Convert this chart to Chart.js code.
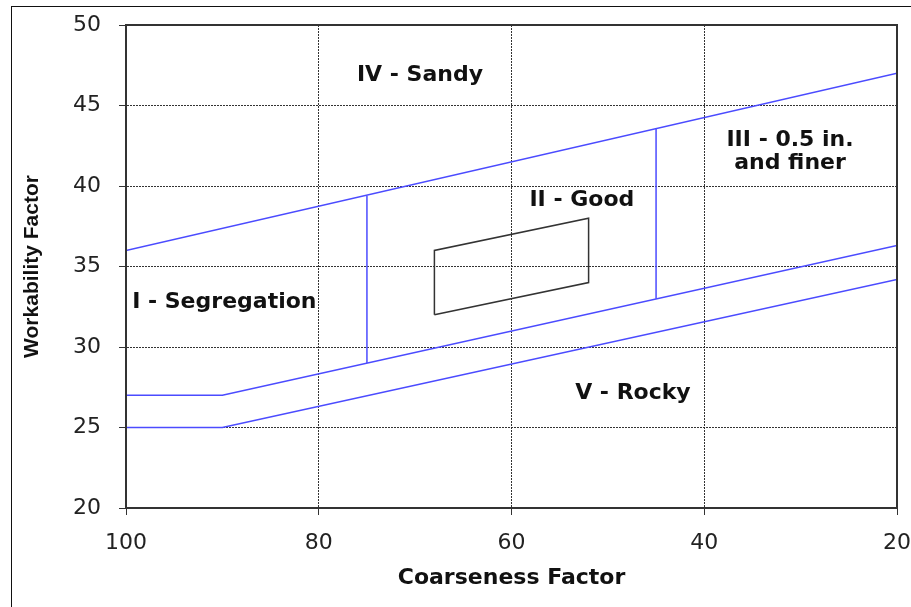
<!DOCTYPE html>
<html>
<head>
<meta charset="utf-8">
<script src="https://cdn.jsdelivr.net/npm/chart.js@4/dist/chart.umd.min.js"></script>
<style>
  html, body { margin: 0; padding: 0; background: #fff; }
  #wrap { position: relative; width: 911px; height: 607px; overflow: hidden; }
  #frame { position: absolute; left: 11px; top: 6px; width: 960px; height: 700px; border: 1.5px solid #111; }
  #box { position: absolute; left: 0; top: 0; width: 911px; height: 607px; }
</style>
</head>
<body>
<div id="wrap">
  <div id="frame"></div>
  <div id="box"><canvas id="chart"></canvas></div>
</div>
<script>
// 坐标轴刻度
const xTicks = [100, 80, 60, 40, 20];
const yTicks = [20, 25, 30, 35, 40, 45, 50];

// 分区边界线 (Coarseness Factor -> Workability Factor)
const upperX = [100, 20];
const upperY = [36, 47];
const middleX = [100, 90, 20];
const middleY = [27, 27, 36.3];
const lowerX = [100, 90, 20];
const lowerY = [25, 25, 34.2];
const split75X = [75, 75];
const split75Y = [29, 39.4];
const split45X = [45, 45];
const split45Y = [33, 43.6];

// II - Good 区域的平行四边形
const goodX = [68, 68, 52, 52, 68];
const goodY = [32, 36, 38, 34, 32];

// 区域名称
const regionNames = [['IV - Sandy'], ['III - 0.5 in.', 'and finer'], ['II - Good'], ['I - Segregation'], ['V - Rocky']];
const regionX = [69.5, 31.1, 52.7, 89.8, 47.4];
const regionY = [46.9, 42.1, 39.1, 32.8, 27.1];

function toPoints(xs, ys) {
    return xs.map(function(x, i) { return { x: x, y: ys[i] }; });
}

const blue = 'rgb(75, 75, 255)';

function lineSet(xs, ys, color, width) {
    return {
        data: toPoints(xs, ys),
        borderColor: color,
        borderWidth: width,
        pointRadius: 0,
        showLine: true,
        fill: false,
        tension: 0
    };
}

// 在数据坐标处写区域名称
const regionLabelPlugin = {
    id: 'regionLabels',
    afterDatasetsDraw: function(chart) {
        const ctx = chart.ctx;
        const xs = chart.scales.x;
        const ys = chart.scales.y;
        ctx.save();
        ctx.fillStyle = '#111';
        ctx.font = 'bold 22px "DejaVu Sans"';
        ctx.textAlign = 'center';
        ctx.textBaseline = 'middle';
        regionNames.forEach(function(lines, i) {
            const px = xs.getPixelForValue(regionX[i]);
            const py = ys.getPixelForValue(regionY[i]);
            const lh = 23;
            const start = py - (lines.length - 1) * lh / 2;
            lines.forEach(function(t, j) {
                ctx.fillText(t, px, start + j * lh);
            });
        });
        ctx.restore();
    }
};

// 画图区外框
const areaBorderPlugin = {
    id: 'areaBorder',
    afterDatasetsDraw: function(chart) {
        const a = chart.chartArea;
        const ctx = chart.ctx;
        ctx.save();
        ctx.setLineDash([]);
        ctx.strokeStyle = '#333';
        ctx.lineWidth = 2;
        ctx.strokeRect(a.left, a.top, a.right - a.left, a.bottom - a.top);
        ctx.restore();
    }
};

function gridColor(ctx) {
    const v = ctx.tick ? ctx.tick.value : null;
    if (v === ctx.scale.min || v === ctx.scale.max) return 'rgba(0,0,0,0)';
    return 'rgba(40,40,40,0.95)';
}

const config = {
    type: 'scatter',
    data: {
        datasets: [
            lineSet(upperX, upperY, blue, 1.5),
            lineSet(middleX, middleY, blue, 1.5),
            lineSet(lowerX, lowerY, blue, 1.5),
            lineSet(split75X, split75Y, blue, 1.5),
            lineSet(split45X, split45Y, blue, 1.5),
            lineSet(goodX, goodY, '#333', 1.5)
        ]
    },
    options: {
        responsive: true,
        maintainAspectRatio: false,
        animation: false,
        layout: { padding: { left: 14, right: 14, top: 25, bottom: 0 } },
        plugins: {
            legend: { display: false },
            tooltip: { enabled: false }
        },
        scales: {
            x: {
                type: 'linear',
                reverse: true,
                min: 20,
                max: 100,
                afterFit: function(scale) {
                    scale.height = 99;
                    scale.paddingLeft = 0;
                    scale.paddingRight = 0;
                },
                afterBuildTicks: function(scale) {
                    scale.ticks = xTicks.map(function(v) { return { value: v }; });
                },
                ticks: {
                    padding: 15,
                    color: '#222',
                    font: { family: '"DejaVu Sans"', size: 22 }
                },
                grid: {
                    color: gridColor,
                    tickColor: '#333',
                    tickLength: 7,
                    tickBorderDash: [],
                    lineWidth: 1
                },
                border: { display: true, color: '#333', width: 2, dash: [2, 1] },
                title: {
                    display: true,
                    text: 'Coarseness Factor',
                    color: '#111',
                    font: { family: '"DejaVu Sans"', size: 22, weight: 'bold' },
                    padding: { top: 0, bottom: 16 }
                }
            },
            y: {
                type: 'linear',
                min: 20,
                max: 50,
                afterFit: function(scale) {
                    scale.width = 112;
                    scale.paddingTop = 0;
                    scale.paddingBottom = 0;
                },
                afterBuildTicks: function(scale) {
                    scale.ticks = yTicks.map(function(v) { return { value: v }; });
                },
                ticks: {
                    padding: 18,
                    color: '#222',
                    font: { family: '"DejaVu Sans"', size: 22 }
                },
                grid: {
                    color: gridColor,
                    tickColor: '#333',
                    tickLength: 7,
                    tickBorderDash: [],
                    lineWidth: 1
                },
                border: { display: true, color: '#333', width: 2, dash: [2, 1] },
                title: {
                    display: true,
                    text: 'Workability Factor',
                    color: '#111',
                    font: { family: '"Liberation Sans"', size: 21, weight: 'bold' },
                    padding: { top: 6, bottom: 0 }
                }
            }
        }
    },
    plugins: [regionLabelPlugin, areaBorderPlugin]
};

const myChart = new Chart(document.getElementById('chart'), config);
</script>
</body>
</html>
